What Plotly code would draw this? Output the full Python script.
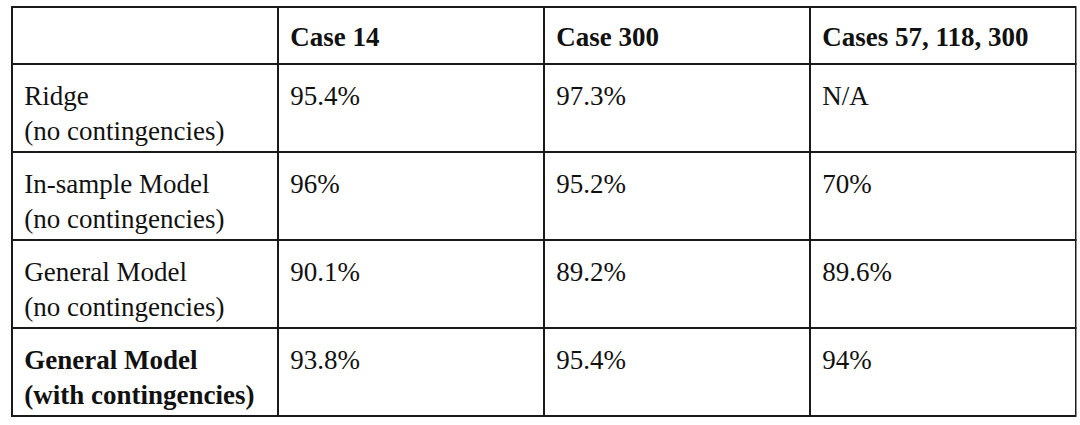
import plotly.graph_objects as go

header_labels = ["", "Case 14", "Case 300", "Cases 57, 118, 300"]
models = [
    "Ridge<br>(no contingencies)",
    "In-sample Model<br>(no contingencies)",
    "General Model<br>(no contingencies)",
    "<b>General Model</b><br><b>(with contingencies)</b>",
]
case_14 = ["95.4%", "96%", "90.1%", "93.8%"]
case_300 = ["97.3%", "95.2%", "89.2%", "95.4%"]
cases_57_118_300 = ["N/A", "70%", "89.6%", "94%"]

W, H = 1080, 425
pad = "\u00a0"
font = dict(family="Liberation Serif", size=27, color="#111")
no_line = dict(color="rgba(0,0,0,0)", width=0)


def cell(v):
    # span keeps every cell on the same text layout path as the tagged ones
    return "<span>" + pad + v.replace("<br>", "<br>" + pad) + "</span>"


header_text = [cell(f"<b>{h}</b>") if h else "" for h in header_labels]
cell_text = [[cell(v) for v in col] for col in (models, case_14, case_300, cases_57_118_300)]
blank_header = [""] * len(header_labels)
blank_cells = [[""] * len(models) for _ in header_labels]

fig = go.Figure()

# grid only
fig.add_trace(go.Table(
    domain=dict(x=[11.5 / W, 1076 / W], y=[0, 1 - 7 / H]),
    header=dict(values=blank_header, height=57, fill_color="white",
                line=dict(color="#1a1a1a", width=2), font=font),
    cells=dict(values=blank_cells, height=88, fill_color="white",
               line=dict(color="#1a1a1a", width=2), font=font),
))

# text layer, nudged to match the cell padding
fig.add_trace(go.Table(
    domain=dict(x=[9.5 / W, 1074 / W], y=[0, 1 - 14 / H]),
    header=dict(values=header_text, align="left", height=59,
                fill_color="rgba(0,0,0,0)", line=no_line, font=font),
    cells=dict(values=cell_text, align="left", height=88,
               fill_color="rgba(0,0,0,0)", line=no_line, font=font),
))

fig.update_layout(
    width=W,
    height=H,
    margin=dict(l=0, r=0, t=0, b=0),
    paper_bgcolor="white",
)

fig.write_html("out.html", config={"displayModeBar": False},
               post_script="document.body.style.margin = '0';")
